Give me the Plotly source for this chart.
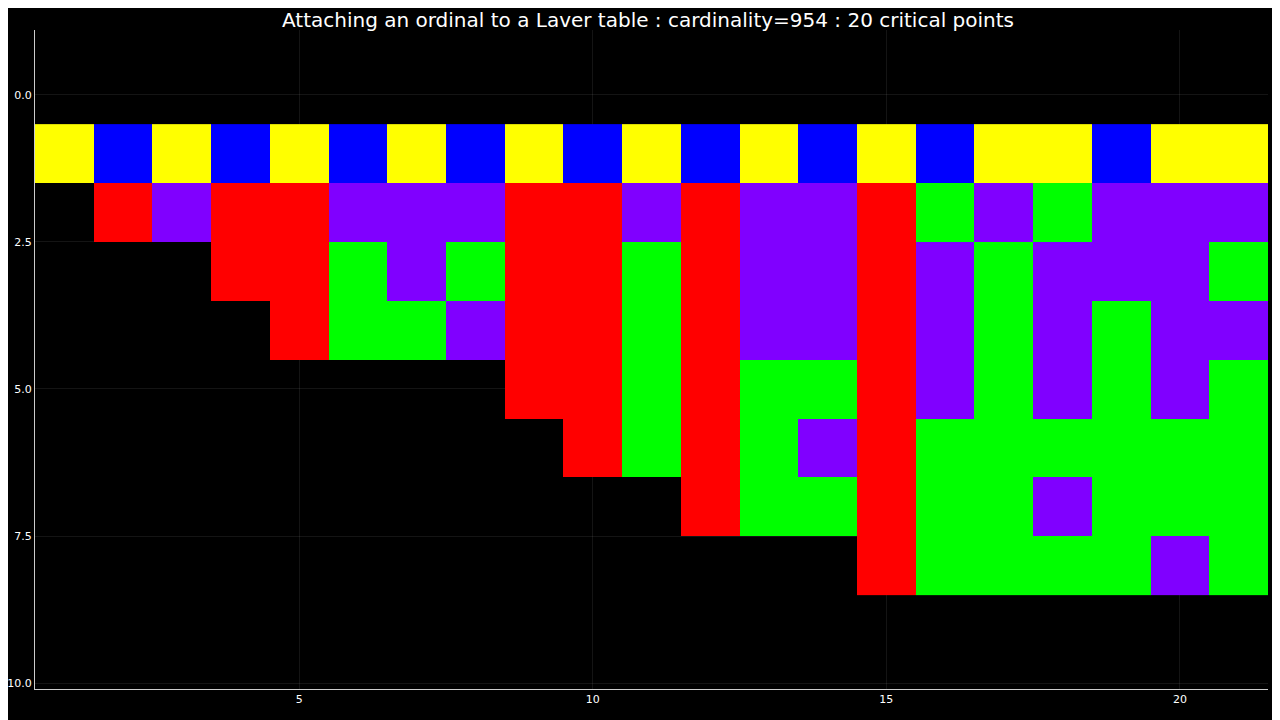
import plotly.graph_objects as go
import numpy as np

# 1=yellow 2=blue 3=red 4=purple 5=green, 0=empty
Y,B,R,P,G,E = 1,2,3,4,5,None
rows = [
 [Y,B,Y,B,Y,B,Y,B,Y,B,Y,B,Y,B,Y,B,Y,Y,B,Y,Y],
 [E,R,P,R,R,P,P,P,R,R,P,R,P,P,R,G,P,G,P,P,P],
 [E,E,E,R,R,G,P,G,R,R,G,R,P,P,R,P,G,P,P,P,G],
 [E,E,E,E,R,G,G,P,R,R,G,R,P,P,R,P,G,P,G,P,P],
 [E,E,E,E,E,E,E,E,R,R,G,R,G,G,R,P,G,P,G,P,G],
 [E,E,E,E,E,E,E,E,E,R,G,R,G,P,R,G,G,G,G,G,G],
 [E,E,E,E,E,E,E,E,E,E,E,R,G,G,R,G,G,P,G,G,G],
 [E,E,E,E,E,E,E,E,E,E,E,E,E,E,R,G,G,G,G,P,G],
]
xs = list(range(1, 22))
ys = list(range(1, 9))
colors = ["#ffff00", "#0000ff", "#ff0000", "#8000ff", "#00ff00"]
cs = []
for i, c in enumerate(colors):
    cs += [[i/5, c], [(i+1)/5, c]]

z = [[np.nan if v is None else v for v in r] for r in rows]
fig = go.Figure(go.Heatmap(x=xs, y=ys, z=z, colorscale=cs, zmin=0.5, zmax=5.5,
                           showscale=False, hoverongaps=False))
fig.update_layout(
    width=1280, height=720, paper_bgcolor="black", plot_bgcolor="black",
    margin=dict(l=27, r=20, t=22, b=39),
    title=dict(text="Attaching an ordinal to a Laver table : cardinality=954 : 20 critical points",
               x=0.5, xanchor="center", y=0.984, yanchor="middle",
               font=dict(color="white", size=20, family="DejaVu Sans")),
    font=dict(color="white", family="DejaVu Sans", size=11),
)
fig.update_xaxes(range=[0.5, 21.5], tickvals=[5, 10, 15, 20], showgrid=True,
                 gridcolor="rgba(255,255,255,0.08)", zeroline=False, showline=True,
                 linecolor="#cccccc", ticks="", automargin=False)
fig.update_yaxes(range=[10.1, -1.1], tickvals=[0, 2.5, 5, 7.5, 10],
                 ticktext=["0.0", "2.5", "5.0", "7.5", "10.0"], showgrid=True,
                 gridcolor="rgba(255,255,255,0.08)", zeroline=False, showline=True,
                 linecolor="#cccccc", ticks="", automargin=False)
fig.write_html("out.html")
